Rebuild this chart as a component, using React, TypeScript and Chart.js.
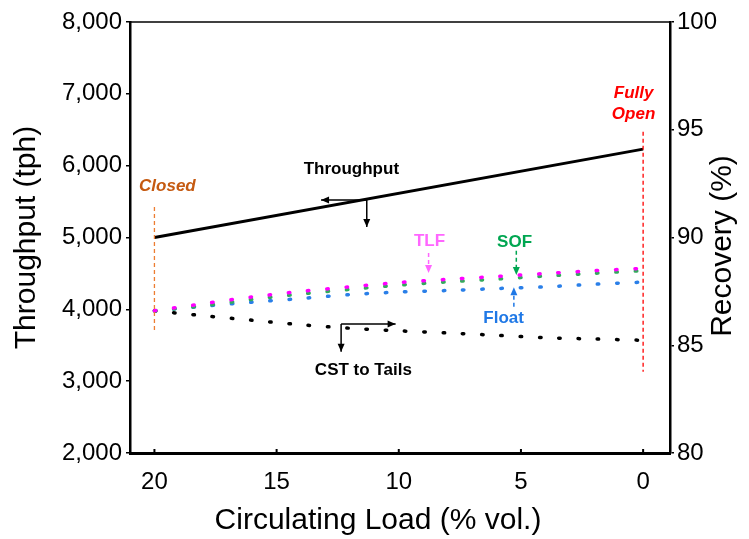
import React, { useEffect, useRef } from 'react';
import { Chart, registerables } from 'chart.js';

Chart.register(...registerables);

// ---- data ----
const loadThroughput = [20, 0];
const throughput = [5000, 6230];

const loadRecovery = [20, 18, 16, 14, 12, 10, 8, 6, 4, 2, 0];
const tlfRecovery = [86.6, 86.93, 87.24, 87.5, 87.71, 87.91, 88.06, 88.19, 88.33, 88.46, 88.57];
const sofRecovery = [86.6, 86.83, 87.13, 87.38, 87.59, 87.79, 87.94, 88.07, 88.21, 88.34, 88.46];
const floatRecovery = [86.6, 86.81, 87.0, 87.17, 87.35, 87.47, 87.54, 87.63, 87.71, 87.83, 87.93];
const cstRecovery = [86.6, 86.37, 86.16, 85.95, 85.79, 85.67, 85.57, 85.46, 85.35, 85.29, 85.23];

const xTicks = [20, 15, 10, 5, 0];
const yTicks = [2000, 3000, 4000, 5000, 6000, 7000, 8000];
const y2Ticks = [80, 85, 90, 95, 100];

const FONT = '"Liberation Sans", Arial, Helvetica, sans-serif';

function arrowHead(ctx: CanvasRenderingContext2D, x: number, y: number, ang: number, len = 8, w = 7) {
  ctx.save();
  ctx.translate(x, y);
  ctx.rotate(ang);
  ctx.beginPath();
  ctx.moveTo(0, 0);
  ctx.lineTo(-len, -w / 2);
  ctx.lineTo(-len, w / 2);
  ctx.closePath();
  ctx.fill();
  ctx.restore();
}

const annotationPlugin = {
  id: 'annotations',
  afterDraw(chart: any) {
    const { ctx, chartArea: ca, scales } = chart;
    const xs = scales.x;
    const ys = scales.y;
    const X = (v: number) => xs.getPixelForValue(v);
    const Y = (v: number) => ys.getPixelForValue(v);
    ctx.save();

    // top border
    ctx.strokeStyle = '#000';
    ctx.lineWidth = 1.5;
    ctx.beginPath();
    ctx.moveTo(ca.left, ca.top);
    ctx.lineTo(ca.right, ca.top);
    ctx.stroke();

    // inward x tick marks
    ctx.lineWidth = 2;
    xTicks.forEach((v) => {
      ctx.beginPath();
      ctx.moveTo(X(v), ca.bottom);
      ctx.lineTo(X(v), ca.bottom - 4);
      ctx.stroke();
    });

    // vertical dashed lines
    const vline = (xv: number, y1: number, y2: number, color: string) => {
      ctx.save();
      ctx.strokeStyle = color;
      ctx.lineWidth = 1.3;
      ctx.setLineDash([4, 3]);
      ctx.beginPath();
      ctx.moveTo(X(xv), Y(y1));
      ctx.lineTo(X(xv), Y(y2));
      ctx.stroke();
      ctx.restore();
    };
    vline(20, 5424, 3670, '#ed7d31');
    vline(0, 6473, 3132, '#ff0000');

    const text = (s: string, xv: number, yv: number, color: string, italic = false) => {
      ctx.fillStyle = color;
      ctx.font = `${italic ? 'italic ' : ''}bold 17px ${FONT}`;
      ctx.textAlign = 'center';
      ctx.textBaseline = 'middle';
      ctx.fillText(s, X(xv), Y(yv));
    };
    text('Closed', 19.47, 5717, '#c55a11', true);
    text('Fully', 0.39, 7005, '#ff0000', true);
    text('Open', 0.39, 6715, '#ff0000', true);
    text('Throughput', 11.94, 5953, '#000');
    text('CST to Tails', 11.45, 3155, '#000');
    text('TLF', 8.74, 4941, '#ff66ff');
    text('SOF', 5.26, 4937, '#00a651');
    text('Float', 5.71, 3879, '#1f78e6');

    // solid arrows
    const solidArrow = (x1: number, y1: number, x2: number, y2: number, color: string) => {
      const px1 = X(x1), py1 = Y(y1), px2 = X(x2), py2 = Y(y2);
      ctx.strokeStyle = color;
      ctx.fillStyle = color;
      ctx.lineWidth = 1.5;
      ctx.setLineDash([]);
      ctx.beginPath();
      ctx.moveTo(px1, py1);
      ctx.lineTo(px2, py2);
      ctx.stroke();
      arrowHead(ctx, px2, py2, Math.atan2(py2 - py1, px2 - px1));
    };
    solidArrow(11.31, 5522, 13.18, 5522, '#000');
    solidArrow(11.31, 5522, 11.31, 5146, '#000');
    solidArrow(12.36, 3796, 10.13, 3796, '#000');
    solidArrow(12.36, 3796, 12.36, 3410, '#000');

    // dashed arrows
    const dashedArrow = (xv: number, y1: number, y2: number, color: string) => {
      const px = X(xv), py1 = Y(y1), py2 = Y(y2);
      ctx.strokeStyle = color;
      ctx.fillStyle = color;
      ctx.lineWidth = 1.5;
      ctx.save();
      ctx.setLineDash([4, 3]);
      ctx.beginPath();
      ctx.moveTo(px, py1);
      ctx.lineTo(px, py2 + (py2 > py1 ? -6 : 6));
      ctx.stroke();
      ctx.restore();
      arrowHead(ctx, px, py2, py2 > py1 ? Math.PI / 2 : -Math.PI / 2);
    };
    dashedArrow(8.78, 4784, 4506, '#ff66ff');
    dashedArrow(5.19, 4816, 4478, '#00a651');
    dashedArrow(5.29, 4036, 4307, '#1f78e6');

    // axis titles (bottom and right)
    ctx.fillStyle = '#000';
    ctx.font = `30px ${FONT}`;
    ctx.textAlign = 'center';
    ctx.textBaseline = 'middle';
    ctx.fillText('Circulating Load (% vol.)', 378, 521);
    ctx.save();
    ctx.translate(723, 246);
    ctx.rotate(-Math.PI / 2);
    ctx.fillText('Recovery (%)', 0, 0);
    ctx.restore();

    ctx.restore();
  },
};

const toPts = (xs: number[], ys: number[]) => xs.map((x, i) => ({ x, y: ys[i] }));

export default function App() {
  const canvasRef = useRef<HTMLCanvasElement | null>(null);

  useEffect(() => {
    if (!canvasRef.current) return;
    const dotted = (color: string) => ({
      borderColor: color,
      backgroundColor: color,
      borderWidth: 3.5,
      borderDash: [1.5, 17.8],
      borderCapStyle: 'round' as const,
      pointRadius: 0,
      tension: 0.3,
      yAxisID: 'y2',
    });
    const chart = new Chart(canvasRef.current, {
      type: 'line',
      data: {
        datasets: [
          {
            label: 'Throughput',
            data: toPts(loadThroughput, throughput),
            borderColor: '#000',
            borderWidth: 3,
            pointRadius: 0,
            tension: 0,
            yAxisID: 'y',
          },
          { label: 'TLF', data: toPts(loadRecovery, tlfRecovery), ...dotted('#ff00ff') },
          { label: 'SOF', data: toPts(loadRecovery, sofRecovery), ...dotted('#33aa5c') },
          { label: 'Float', data: toPts(loadRecovery, floatRecovery), ...dotted('#2a7fe8') },
          { label: 'CST to Tails', data: toPts(loadRecovery, cstRecovery), ...dotted('#000') },
        ],
      },
      options: {
        animation: false,
        responsive: true,
        maintainAspectRatio: false,
        layout: { padding: { top: 22, left: 0, right: 0, bottom: 0 } },
        plugins: { legend: { display: false }, tooltip: { enabled: false } },
        scales: {
          x: {
            type: 'linear',
            position: 'bottom',
            reverse: true,
            min: -1.1,
            max: 21,
            afterBuildTicks: (s: any) => {
              s.ticks = xTicks.map((v) => ({ value: v }));
            },
            afterFit: (s: any) => {
              s.height = 86;
            },
            ticks: { color: '#000', font: { family: FONT, size: 24 }, padding: 7, maxRotation: 0 },
            grid: { display: false },
            border: { display: true, color: '#000', width: 3 },
          },
          y: {
            type: 'linear',
            position: 'left',
            min: 2000,
            max: 8000,
            afterBuildTicks: (s: any) => {
              s.ticks = yTicks.map((v) => ({ value: v }));
            },
            afterFit: (s: any) => {
              s.width = 130;
            },
            ticks: {
              color: '#000',
              font: { family: FONT, size: 24 },
              padding: 4,
              callback: (v: any) => Number(v).toLocaleString('en-US'),
            },
            grid: { display: true, drawOnChartArea: false, drawTicks: true, tickLength: 4, color: '#000', lineWidth: 1.5 },
            border: { display: true, color: '#000', width: 2.5 },
            title: {
              display: true,
              text: 'Throughput (tph)',
              color: '#000',
              font: { family: FONT, size: 30 },
              padding: { top: 9, bottom: 0 },
            },
          },
          y2: {
            type: 'linear',
            position: 'right',
            min: 80,
            max: 100,
            afterBuildTicks: (s: any) => {
              s.ticks = y2Ticks.map((v) => ({ value: v }));
            },
            afterFit: (s: any) => {
              s.width = 79;
            },
            ticks: { color: '#000', font: { family: FONT, size: 24 }, padding: 3 },
            grid: { display: true, drawOnChartArea: false, drawTicks: true, tickLength: 4, color: '#000', lineWidth: 1.5 },
            border: { display: true, color: '#000', width: 2.5 },
          },
        },
      },
      plugins: [annotationPlugin],
    });
    return () => chart.destroy();
  }, []);

  return (
    <div style={{ position: 'fixed', left: 0, top: 0, width: 749, height: 539, background: '#fff' }}>
      <canvas ref={canvasRef} />
    </div>
  );
}
